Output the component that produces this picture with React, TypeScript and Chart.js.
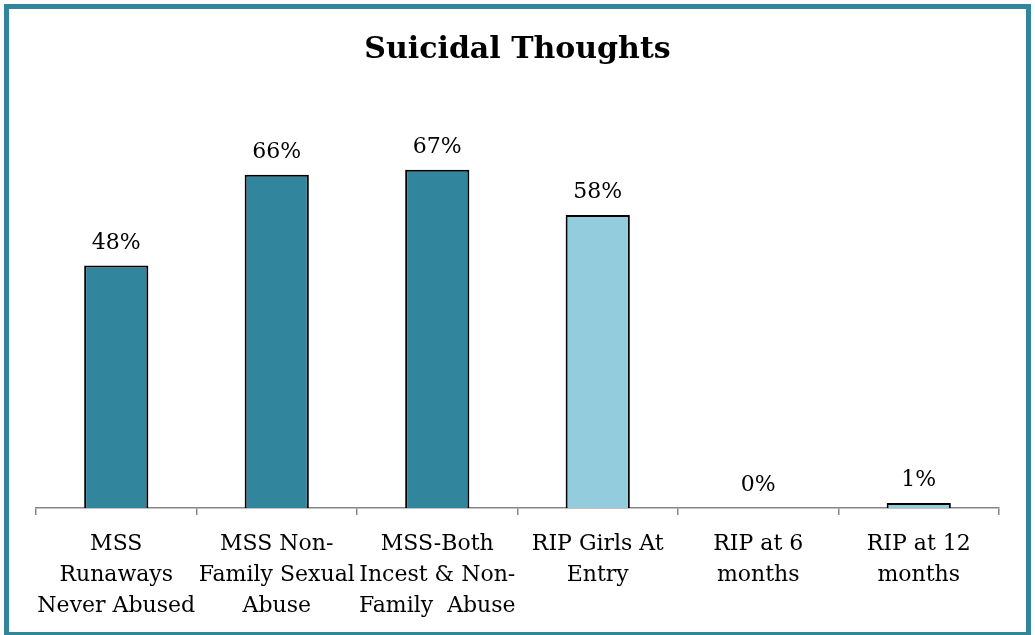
import React, { useEffect, useRef } from "react";
import { Chart, registerables } from "chart.js";

Chart.register(...registerables);

const categories: string[][] = [
  ["MSS", "Runaways", "Never Abused"],
  ["MSS Non-", "Family Sexual", "Abuse"],
  ["MSS-Both", "Incest & Non-", "Family  Abuse"],
  ["RIP Girls At", "Entry"],
  ["RIP at 6", "months"],
  ["RIP at 12", "months"],
];
const values: number[] = [0.48, 0.66, 0.67, 0.58, 0, 0.01];
const barColors: string[] = ["#31859c", "#31859c", "#31859c", "#93cddd", "#93cddd", "#93cddd"];
const titleText = "Suicidal Thoughts";

const SERIF = "'DejaVu Serif', 'Liberation Serif', serif";

const valueLabels = {
  id: "valueLabels",
  afterDatasetsDraw(chart: any) {
    const { ctx } = chart;
    const meta = chart.getDatasetMeta(0);
    ctx.save();
    ctx.fillStyle = "#000";
    ctx.font = `22px ${SERIF}`;
    ctx.textAlign = "center";
    ctx.textBaseline = "alphabetic";
    meta.data.forEach((bar: any, i: number) => {
      const v = values[i];
      ctx.fillText(`${Math.round(v * 100)}%`, bar.x, bar.y - 17);
    });
    ctx.restore();
  },
};

const titlePlugin = {
  id: "titleDraw",
  afterDraw(chart: any) {
    const { ctx } = chart;
    ctx.save();
    ctx.fillStyle = "#000";
    ctx.font = `bold 30px ${SERIF}`;
    ctx.textAlign = "center";
    ctx.textBaseline = "middle";
    ctx.fillText(titleText, chart.width / 2, 50);
    ctx.restore();
  },
};

export default function App() {
  const canvasRef = useRef<HTMLCanvasElement | null>(null);

  useEffect(() => {
    if (!canvasRef.current) return;
    const chart = new Chart(canvasRef.current, {
      type: "bar",
      data: {
        labels: categories,
        datasets: [
          {
            data: values,
            backgroundColor: barColors,
            borderColor: "#000",
            borderWidth: 2,
            borderSkipped: "bottom",
            categoryPercentage: 1,
            barPercentage: 0.4,
          },
        ],
      },
      options: {
        animation: false,
        responsive: false,
        maintainAspectRatio: false,
        layout: { padding: { left: 36, right: 36, top: 104, bottom: 0 } },
        plugins: {
          legend: { display: false },
          tooltip: { enabled: false },
          title: { display: false },
        },
        scales: {
          x: {
            offset: true,
            grid: {
              offset: true,
              drawOnChartArea: false,
              drawTicks: true,
              tickLength: 7,
              color: "#868686",
              lineWidth: 1.5,
            },
            border: { color: "#868686", width: 1.5 },
            ticks: {
              color: "#000",
              font: { family: SERIF, size: 22, lineHeight: 1.41 },
              padding: 14,
              maxRotation: 0,
              autoSkip: false,
            },
            afterFit(scale: any) {
              scale.height = 127;
            },
          },
          y: {
            display: false,
            min: 0,
            max: 0.8,
          },
        },
      },
      plugins: [valueLabels, titlePlugin],
    });
    return () => chart.destroy();
  }, []);

  return (
    <div style={{ position: "fixed", left: 0, top: 0, width: 1035, height: 635, background: "#fff" }}>
      <canvas
        ref={canvasRef}
        width={1035}
        height={635}
        style={{ position: "absolute", left: 0, top: 0, width: 1035, height: 635 }}
      />
      <div
        style={{
          position: "absolute",
          left: 4,
          top: 4,
          width: 1017,
          height: 623,
          border: "5px solid #31869b",
          boxSizing: "content-box",
          pointerEvents: "none",
        }}
      />
    </div>
  );
}
